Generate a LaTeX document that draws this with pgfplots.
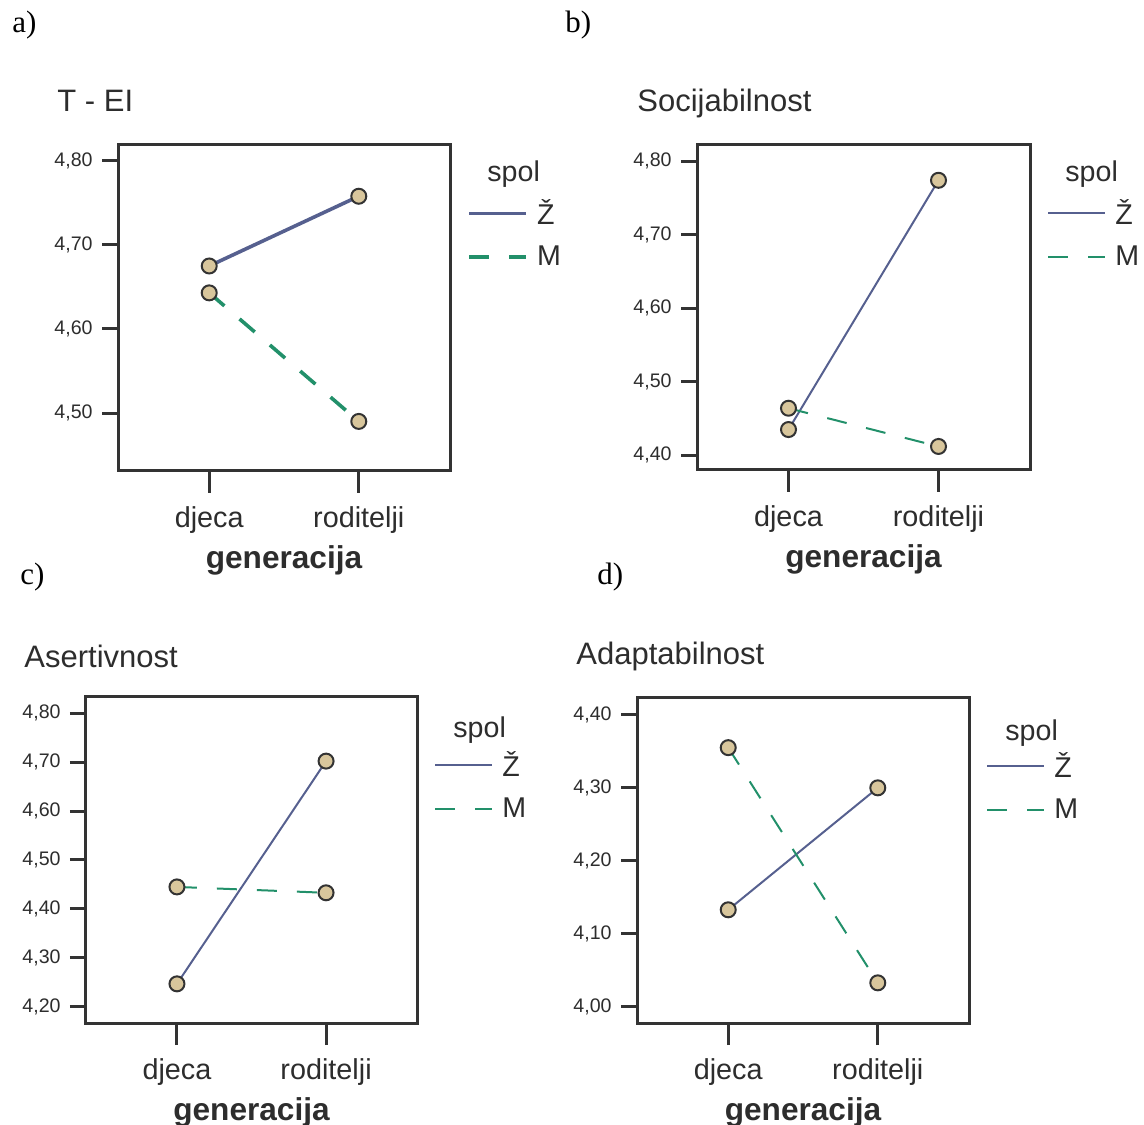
\documentclass[border=0pt]{standalone}
\usepackage{pgfplots}
\pgfplotsset{compat=1.18}
\usepackage{fontspec}
\setmainfont{Liberation Sans}
\newfontfamily\serif{Liberation Serif}
\definecolor{zcol}{RGB}{86,96,143}
\definecolor{mcol}{RGB}{34,144,106}
\definecolor{tanfill}{RGB}{216,198,156}
\definecolor{axgray}{RGB}{51,51,51}
\definecolor{txtgray}{RGB}{45,45,45}
\pgfplotsset{
  panel/.style={
    scale only axis, anchor=south west,
    axis line style={draw=axgray, line width=1.5pt},
    xmin=-0.61, xmax=1.61,
    xtick={0,1}, xticklabels={djeca,roditelji},
    xtick pos=bottom, ytick pos=left,
    tick align=outside,
    major tick length=8pt,
    tick style={draw=axgray, line width=1.5pt},
    xtick style={/pgfplots/major tick length=11pt},
    /pgf/number format/fixed,
    /pgf/number format/fixed zerofill,
    /pgf/number format/precision=2,
    /pgf/number format/use comma,
    /pgf/number format/assume math mode=true,
    yticklabel style={font=\fontsize{9.8}{12}\selectfont, text=txtgray, inner xsep=4.5pt},
    xticklabel style={font=\fontsize{14.4}{17}\selectfont, text=txtgray, yshift=-6.3pt},
    xlabel={generacija},
    xlabel style={font=\bfseries\fontsize{15.8}{19}\selectfont, text=txtgray, yshift=1pt},
    legend image code/.code={\draw[#1] (0pt,0pt) -- (28.5pt,0pt);},
    legend cell align=left,
    legend style={font=\fontsize{14.3}{17}\selectfont, text=txtgray, draw=none, fill=none,
      at={(rel axis cs:1,1)}, anchor=north west, xshift=8.5pt, yshift=-27pt,
      inner sep=0pt, row sep=9pt, nodes={inner xsep=4.5pt, inner ysep=0pt}},
  },
  zline/.style={color=zcol, solid, line width=#1, mark=*, mark size=3.75pt,
    mark options={solid, fill=tanfill, draw=axgray, line width=1pt}},
  mline/.style={color=mcol, dash pattern=on 10pt off 10pt, line width=#1, mark=*, mark size=3.75pt,
    mark options={solid, fill=tanfill, draw=axgray, line width=1pt}},
}
\begin{document}
\begin{tikzpicture}
\path[use as bounding box] (0,0) rectangle (572pt,562pt);

% a) T - EI
\begin{axis}[panel, at={(59pt,326.5pt)}, width=166pt, height=163pt,
  ymin=4.431, ymax=4.819, ytick={4.5,4.6,4.7,4.8}]
\addplot[zline=1.8pt] coordinates {(0,4.675) (1,4.758)};
\addlegendentry{Ž}
\addplot[mline=1.8pt] coordinates {(0,4.643) (1,4.490)};
\addlegendentry{M}
\end{axis}

% b) Socijabilnost
\begin{axis}[panel, at={(348.5pt,327pt)}, width=166.5pt, height=162.5pt,
  ymin=4.380, ymax=4.822, ytick={4.4,4.5,4.6,4.7,4.8}]
\addplot[zline=1pt] coordinates {(0,4.435) (1,4.774)};
\addlegendentry{Ž}
\addplot[mline=1pt] coordinates {(0,4.464) (1,4.412)};
\addlegendentry{M}
\end{axis}

% c) Asertivnost
\begin{axis}[panel, at={(43pt,50.5pt)}, width=165.5pt, height=163pt,
  ymin=4.167, ymax=4.833, ytick={4.2,4.3,4.4,4.5,4.6,4.7,4.8}]
\addplot[zline=1pt] coordinates {(0,4.247) (1,4.702)};
\addlegendentry{Ž}
\addplot[mline=1pt] coordinates {(0,4.445) (1,4.433)};
\addlegendentry{M}
\end{axis}

% d) Adaptabilnost
\begin{axis}[panel, at={(318.5pt,50.5pt)}, width=166pt, height=162.5pt,
  ymin=3.978, ymax=4.423, ytick={4.0,4.1,4.2,4.3,4.4}]
\addplot[zline=1pt] coordinates {(0,4.133) (1,4.300)};
\addlegendentry{Ž}
\addplot[mline=1pt] coordinates {(0,4.355) (1,4.033)};
\addlegendentry{M}
\end{axis}

% panel titles
\begin{scope}[every node/.style={anchor=base west, inner sep=0pt, text=txtgray, font=\fontsize{15.5}{18}\selectfont}]
\node at (28.5pt,506.25pt) {T - EI};
\node at (318.5pt,506.25pt) {Socijabilnost};
\node at (12pt,228.25pt) {Asertivnost};
\node at (288pt,229.75pt) {Adaptabilnost};
\end{scope}
% legend titles
\begin{scope}[every node/.style={anchor=base west, inner sep=0pt, text=txtgray, font=\fontsize{14.3}{17}\selectfont}]
\node at (243.5pt,471pt) {spol};
\node at (532.5pt,471pt) {spol};
\node at (226.5pt,193.2pt) {spol};
\node at (502.5pt,191.7pt) {spol};
\end{scope}
% panel letters
\begin{scope}[every node/.style={anchor=west, inner sep=0pt, font=\serif\fontsize{15.5}{18}\selectfont}]
\node at (6pt,549.5pt) {a)};
\node at (282.5pt,549.5pt) {b)};
\node at (10pt,273.5pt) {c)};
\node at (298.5pt,273.5pt) {d)};
\end{scope}
\end{tikzpicture}
\end{document}
